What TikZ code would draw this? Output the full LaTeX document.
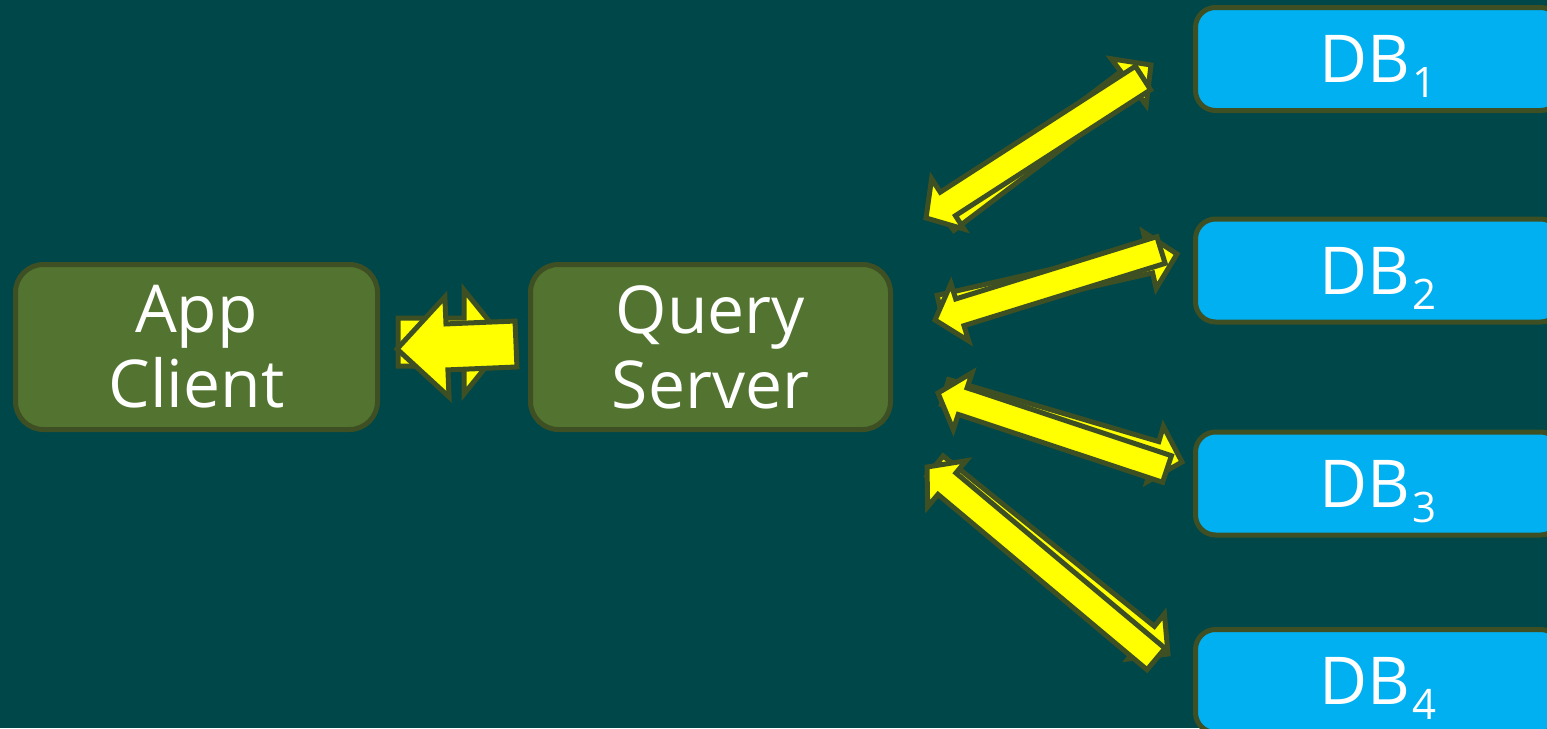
\documentclass[tikz,border=0pt]{standalone}
\usepackage{fontspec}
\setmainfont{Open Sans}
\usetikzlibrary{calc}

\definecolor{bgteal}{RGB}{0,71,73}
\definecolor{edgeolive}{RGB}{62,80,35}
\definecolor{boxgreen}{RGB}{83,116,48}
\definecolor{dbblue}{RGB}{0,176,240}
\definecolor{arrowyellow}{RGB}{255,255,0}

% lowered index digit that does not change the node height
\newcommand\dbsub[1]{\kern3pt\raisebox{-15pt}[0pt][0pt]{\fontsize{42}{42}\selectfont #1}}

% outlined block arrow: tail, tip, shaft half-width, head half-width, head length
\newcommand\blockarrow[5]{%
  \coordinate (ba-base) at ($(#2)!#5!(#1)$);
  \filldraw[yblock]
    ($(#1)!#3!90:(#2)$) -- ($(ba-base)!#3!90:(#2)$) -- ($(ba-base)!#4!90:(#2)$)
    -- (#2)
    -- ($(ba-base)!#4!-90:(#2)$) -- ($(ba-base)!#3!-90:(#2)$) -- ($(#1)!#3!-90:(#2)$)
    -- cycle;}

\tikzset{
  yblock/.style={fill=arrowyellow, draw=edgeolive, line width=5pt, line join=miter},
  greenbox/.style={draw=edgeolive, fill=boxgreen, line width=5pt, rounded corners=28pt,
    minimum width=362pt, minimum height=165pt, inner sep=0pt, align=center,
    text=white, font=\fontsize{66}{75}\selectfont},
  dbbox/.style={draw=edgeolive, fill=dbblue, line width=5pt, rounded corners=20pt,
    minimum width=365pt, minimum height=103pt, inner sep=0pt,
    text=white, font=\fontsize{66}{75}\selectfont},
}

\begin{document}
\begin{tikzpicture}[x=1pt, y=-1pt]
  \useasboundingbox (0,0) rectangle (1547,728);
  \clip (0,0) rectangle (1547,728);
  \fill[bgteal] (0,0) rectangle (1547,728);

  % boxes
  \node[greenbox] (app) at (196.5,347) {App\\Client};
  \node[greenbox, minimum width=360pt] (qs) at (710.5,347) {Query\\Server};
  \node[dbbox] (db1) at (1378,59) {DB\dbsub{1}};
  \node[dbbox] (db2) at (1378,270.5) {DB\dbsub{2}};
  \node[dbbox] (db3) at (1378,483.5) {DB\dbsub{3}};
  \node[dbbox] (db4) at (1378,681) {DB\dbsub{4}};

  % arrow end points
  \coordinate (aR-t) at (398,342);  \coordinate (aR-h) at (506,342);
  \coordinate (aL-t) at (516,344);  \coordinate (aL-h) at (397,349);
  \coordinate (d1o-t) at (946,220); \coordinate (d1o-h) at (1151,65);
  \coordinate (d1i-t) at (1143,78); \coordinate (d1i-h) at (926,218);
  \coordinate (d2o-t) at (940,308); \coordinate (d2o-h) at (1177,254);
  \coordinate (d2i-t) at (1161,250); \coordinate (d2i-h) at (935,320);
  \coordinate (d3o-t) at (945,392); \coordinate (d3o-h) at (1182,462);
  \coordinate (d3i-t) at (1167,469); \coordinate (d3i-h) at (938,393);
  \coordinate (d4o-t) at (935,466); \coordinate (d4o-h) at (1168,654);
  \coordinate (d4i-t) at (1156,659); \coordinate (d4i-h) at (927,467);

  % client <-> query server
  \blockarrow{aR-t}{aR-h}{24pt}{52pt}{42pt}
  \blockarrow{aL-t}{aL-h}{23pt}{50pt}{50pt}

  % query server <-> databases
  \blockarrow{d1o-t}{d1o-h}{13pt}{29pt}{28pt}
  \blockarrow{d1i-t}{d1i-h}{14pt}{30pt}{26pt}
  \blockarrow{d2o-t}{d2o-h}{13pt}{29pt}{28pt}
  \blockarrow{d2i-t}{d2i-h}{14pt}{30pt}{26pt}
  \blockarrow{d3o-t}{d3o-h}{13pt}{29pt}{28pt}
  \blockarrow{d3i-t}{d3i-h}{14pt}{30pt}{26pt}
  \blockarrow{d4o-t}{d4o-h}{13pt}{29pt}{28pt}
  \blockarrow{d4i-t}{d4i-h}{14pt}{30pt}{26pt}
\end{tikzpicture}
\end{document}
